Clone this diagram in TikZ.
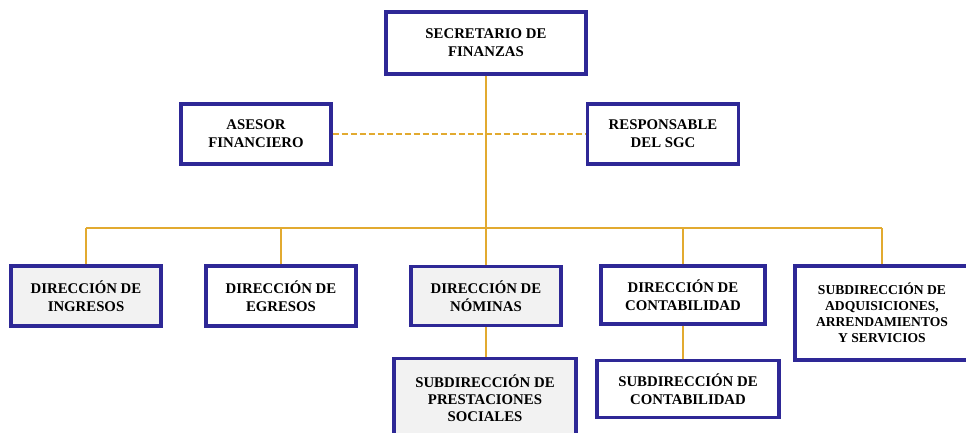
\documentclass[tikz,border=0pt]{standalone}
\usepackage{fontspec}
\setmainfont{Liberation Serif}
\usepackage{tikz}
\usetikzlibrary{positioning}
\definecolor{marco}{RGB}{46,40,150}
\definecolor{oro}{RGB}{226,170,48}
\definecolor{gris}{RGB}{242,242,242}
\tikzset{
  cargo/.style={draw=marco,line width=3.2pt,fill=white,align=center,
    font=\bfseries\fontsize{14.8}{18}\selectfont,inner sep=2pt},
  cargogris/.style={cargo,fill=gris},
  linea/.style={draw=oro,line width=1.6pt},
}

\begin{document}
\begin{tikzpicture}[x=1pt,y=-1pt]
	\useasboundingbox (0,0) rectangle (966,432);
	\coordinate (barra) at (486,228);

	% Nodes:
	\node[cargo,minimum width=200pt,minimum height=62pt] (sec) at (486,43) {SECRETARIO DE\\FINANZAS};
	\node[cargo,minimum width=150pt,minimum height=60pt] (ase) at (256,134) {ASESOR\\FINANCIERO};
	\node[cargo,minimum width=151pt,minimum height=60pt] (sgc) at (663,134) {RESPONSABLE\\DEL SGC};

	\node[cargogris,minimum width=150pt,minimum height=60pt] (ing) at (86,296) {DIRECCIÓN DE\\INGRESOS};
	\node[cargo,minimum width=150pt,minimum height=60pt] (egr) at (281,296) {DIRECCIÓN DE\\EGRESOS};
	\node[cargogris,minimum width=150pt,minimum height=59pt] (nom) at (486,296) {DIRECCIÓN DE\\NÓMINAS};
	\node[cargo,minimum width=164pt,minimum height=58pt] (con) at (683,295) {DIRECCIÓN DE\\CONTABILIDAD};
	\node[cargo,minimum width=174pt,minimum height=94pt,
	      font=\bfseries\fontsize{13.6}{16}\selectfont] (adq) at (882,313) {SUBDIRECCIÓN DE\\ADQUISICIONES,\\ARRENDAMIENTOS\\Y SERVICIOS};

	\node[cargogris,minimum width=182pt,minimum height=80pt,anchor=north,
	      font=\bfseries\fontsize{14.8}{17}\selectfont] (pre) at (485,357) {SUBDIRECCIÓN DE\\PRESTACIONES\\SOCIALES};
	\node[cargo,minimum width=182pt,minimum height=57pt] (sco) at (688,389) {SUBDIRECCIÓN DE\\CONTABILIDAD};

	% Connectors:
	\draw[linea] (sec.south) -- (barra);
	\draw[linea,dashed,dash pattern=on 6pt off 3pt] (ase.east) -- (sgc.west);
	\draw[linea] (ing.north |- barra) -- (adq.north |- barra);
	\foreach \n in {ing,egr,nom,con,adq}{%
		\draw[linea] (\n.north) -- (\n.north |- barra);
	}
	\draw[linea] (nom.south) -- (nom.south |- pre.north);
	\draw[linea] (con.south) -- (con.south |- sco.north);
\end{tikzpicture}
\end{document}
